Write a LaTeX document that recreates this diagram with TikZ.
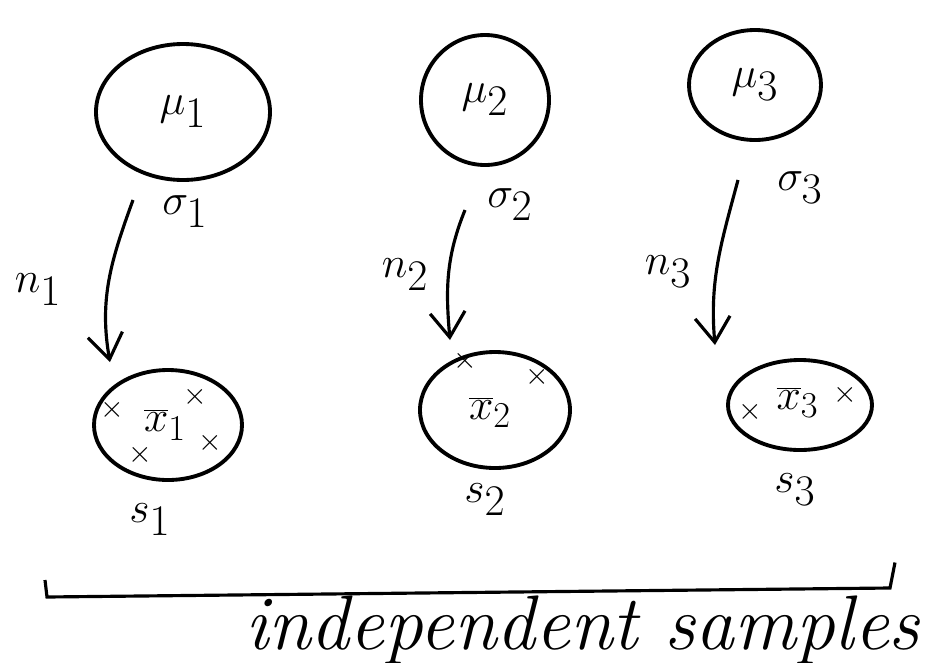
\documentclass[tikz,border=0pt]{standalone}
\usetikzlibrary{shapes.geometric,arrows.meta}
\begin{document}
\begin{tikzpicture}[line width=2pt, every node/.style={font=\fontsize{36}{42}\selectfont}]
  \tikzstyle{popu}=[draw,ellipse,inner sep=0pt,line width=2.2pt]
  \tikzstyle{sampl}=[draw,ellipse,inner sep=0pt,line width=2.2pt]
  \tikzstyle{arr}=[-{Straight Barb[length=5mm,width=7mm,line width=1.8pt]},line width=1.8pt]
  \tikzstyle{pt}=[inner sep=0pt,font=\fontsize{16}{18}\selectfont]
  \tikzstyle{mean}=[inner sep=0pt,font=\fontsize{32}{38}\selectfont]
  \useasboundingbox (0,0) rectangle (18.78,-13.24);
  % populations
  \node[popu,minimum width=3.48cm,minimum height=2.72cm] (mu1) at (3.66,-2.24) {$\mu_1$};
  \node[popu,minimum width=2.56cm,minimum height=2.6cm] (mu2) at (9.7,-2.0) {$\mu_2$};
  \node[popu,minimum width=2.64cm,minimum height=2.2cm] (mu3) at (15.1,-1.7) {$\mu_3$};
  \node (sg1) at (3.7,-4.24) {$\sigma_1$};
  \node (sg2) at (10.2,-4.1) {$\sigma_2$};
  \node (sg3) at (16.0,-3.75) {$\sigma_3$};
  % samples
  \node[sampl,minimum width=2.96cm,minimum height=2.2cm] (s1) at (3.36,-8.5) {};
  \node[sampl,minimum width=3.0cm,minimum height=2.32cm] (s2) at (9.9,-8.2) {};
  \node[sampl,minimum width=2.88cm,minimum height=1.8cm] (s3) at (16.0,-8.1) {};
  \node[mean] (xb1) at (3.3,-8.5) {$\overline{x}_1$};
  \node[mean] (xb2) at (9.8,-8.25) {$\overline{x}_2$};
  \node[mean] (xb3) at (15.95,-8.05) {$\overline{x}_3$};
  \node[pt] (p11) at (2.24,-8.2) {$\times$};
  \node[pt] (p12) at (3.9,-7.94) {$\times$};
  \node[pt] (p13) at (4.2,-8.86) {$\times$};
  \node[pt] (p14) at (2.8,-9.1) {$\times$};
  \node[pt] (p21) at (9.3,-7.22) {$\times$};
  \node[pt] (p22) at (10.74,-7.54) {$\times$};
  \node[pt] (p31) at (15.0,-8.24) {$\times$};
  \node[pt] (p32) at (16.9,-7.9) {$\times$};
  \node (lb1) at (3.0,-10.4) {$s_1$};
  \node (lb2) at (9.7,-10.0) {$s_2$};
  \node (lb3) at (15.9,-9.8) {$s_3$};
  % sampling arrows
  \coordinate (t1) at (2.66,-4.0);  \coordinate (h1) at (2.2,-7.24);
  \coordinate (t2) at (9.3,-4.2);   \coordinate (h2) at (9.0,-6.8);
  \coordinate (t3) at (14.76,-3.6); \coordinate (h3) at (14.3,-6.9);
  \draw[arr] (t1) to[out=-110,in=100] (h1);
  \draw[arr] (t2) to[out=-112,in=95] (h2);
  \draw[arr] (t3) to[out=-105,in=95] (h3);
  \node (n1) at (0.76,-5.8) {$n_1$};
  \node (n2) at (8.1,-5.5) {$n_2$};
  \node (n3) at (13.36,-5.44) {$n_3$};
  % bracket
  \coordinate (bl) at (0.9,-11.6); \coordinate (br) at (17.9,-11.25);
  \draw[line width=1.8pt] (bl) -- ++(0.04,-0.34) -- (17.8,-11.76) -- (br);
  \node[font=\fontsize{44}{52}\selectfont\itshape] (ind) at (11.65,-12.6) {independent samples};
\end{tikzpicture}
\end{document}
